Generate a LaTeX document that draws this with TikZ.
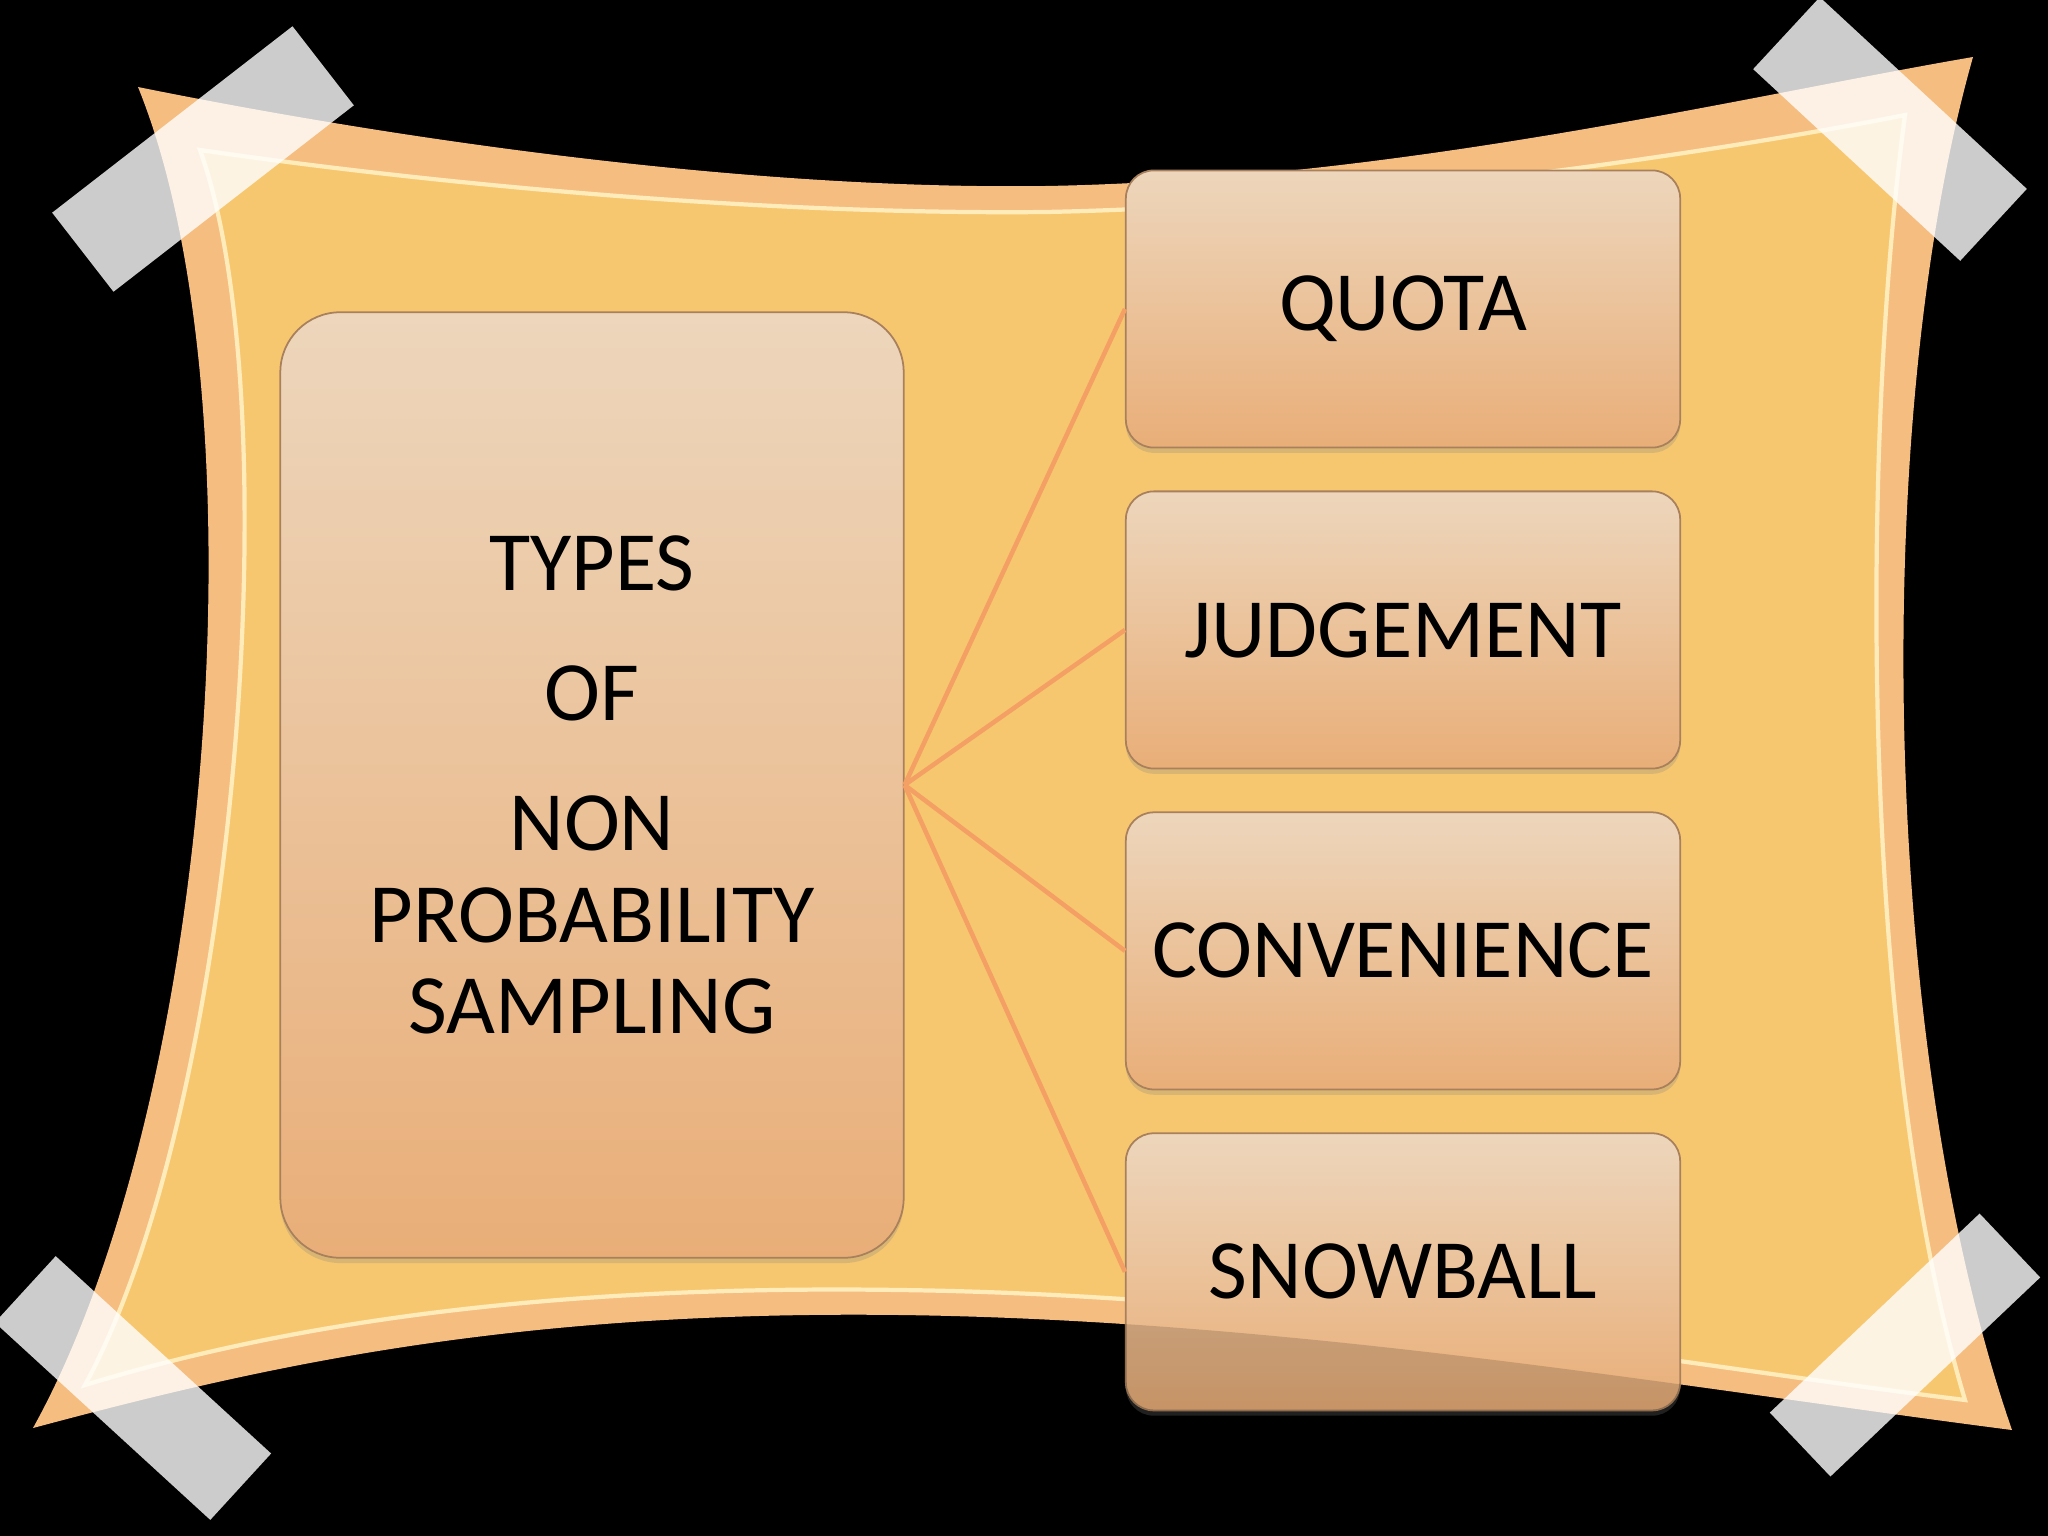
\documentclass[tikz,border=0pt]{standalone}
\usepackage{fontspec}
\setmainfont{Carlito}
\usetikzlibrary{positioning,shadows}

\definecolor{paper}{RGB}{247,199,112}
\definecolor{paperedge}{RGB}{246,189,128}
\definecolor{paperline}{RGB}{255,236,186}
\definecolor{boxtop}{RGB}{237,214,188}
\definecolor{boxbottom}{RGB}{233,174,120}
\definecolor{boxline}{RGB}{168,128,92}
\definecolor{linkcol}{RGB}{244,160,100}

\tikzset{
  box/.style={rectangle, rounded corners=0.28cm, draw=boxline, line width=0.5pt,
    top color=boxtop, bottom color=boxbottom,
    minimum width=5.54cm, minimum height=2.77cm, inner sep=0pt,
    font=\fontsize{24}{26}\selectfont,
    drop shadow={opacity=0.25, shadow xshift=0pt, shadow yshift=-1.5pt}},
  mainbox/.style={box, rounded corners=0.6cm,
    minimum width=6.23cm, minimum height=9.45cm, align=center},
  link/.style={draw=linkcol, line width=1.3pt},
  tape/.style={rectangle, fill=white, fill opacity=0.8, draw=none, inner sep=0pt}
}

\begin{document}
\begin{tikzpicture}[x=0.01cm, y=-0.01cm]

  % Slide background
  \fill[black] (0,0) rectangle (2048,1536);
  \useasboundingbox (0,0) rectangle (2048,1536);
  \clip (0,0) rectangle (2048,1536);

  % Paper sheet, outer edge
  \fill[paperedge] (138,87) .. controls (400,140) and (750,190) .. (1045,186)
    .. controls (1400,180) and (1750,95) .. (1973,57)
    .. controls (1870,420) and (1880,1050) .. (2012,1430)
    .. controls (1700,1390) and (1300,1320) .. (900,1315)
    .. controls (500,1310) and (250,1370) .. (33,1428)
    .. controls (215,1100) and (265,400) .. cycle;

  % Paper sheet, inner part with light line
  \filldraw[fill=paper, draw=paperline, line width=1.2pt]
    (200,150) .. controls (420,182) and (750,215) .. (1045,212)
    .. controls (1400,205) and (1780,140) .. (1905,115)
    .. controls (1860,450) and (1860,1050) .. (1965,1400)
    .. controls (1680,1365) and (1300,1295) .. (900,1290)
    .. controls (500,1284) and (250,1335) .. (85,1385)
    .. controls (240,1100) and (290,400) .. cycle;

  % Boxes
  \node[mainbox] (main) at (592,785)
    {TYPES\\[11pt]OF\\[11pt]NON\\PROBABILITY\\SAMPLING};
  \node[box] (quota) at (1403,309) {QUOTA};
  \node[box, below=0.42cm of quota] (judge) {JUDGEMENT};
  \node[box, below=0.42cm of judge] (conv) {CONVENIENCE};
  \node[box, below=0.42cm of conv] (snow) {SNOWBALL};

  % Links
  \foreach \n in {quota,judge,conv,snow}
    \draw[link] (main.east) -- (\n.west);

  % Box under the curled paper edge
  \begin{scope}
    \clip[rounded corners=0.28cm] (snow.south west) rectangle (snow.north east);
    \fill[black, opacity=0.15] (2012,1430) .. controls (1700,1390) and (1300,1320) .. (900,1315)
      -- (900,1600) -- (2100,1600) -- cycle;
  \end{scope}

  % Tapes
  \node[tape, rotate=37.8, minimum width=3.04cm, minimum height=1.0cm] (tapetl) at (203,159) {};
  \node[tape, rotate=-42.8, minimum width=2.82cm, minimum height=0.98cm] (tapetr) at (1890,129) {};
  \node[tape, rotate=-42.5, minimum width=2.92cm, minimum height=0.9cm] (tapebl) at (133,1388) {};
  \node[tape, rotate=43.5, minimum width=2.89cm, minimum height=0.88cm] (tapebr) at (1905,1345) {};

\end{tikzpicture}
\end{document}
